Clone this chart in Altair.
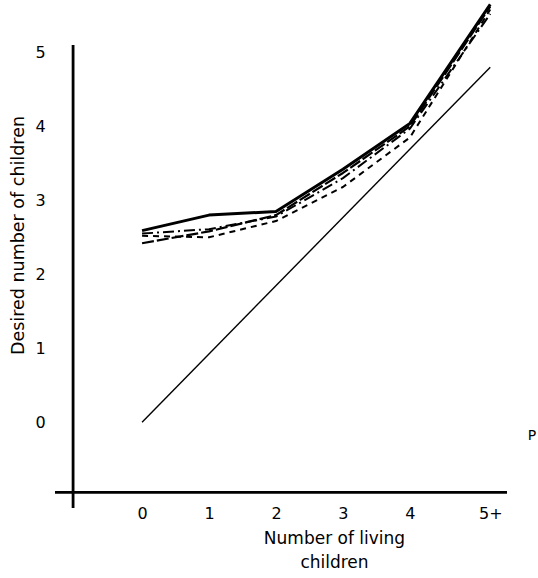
import altair as alt
import pandas as pd

# ---- data ----
x_pos = [0, 1, 2, 3, 4, 5.2]          # "5+" category sits at about 5.2
x_labels = ["0", "1", "2", "3", "4", "5+"]
y_ticks = [0, 1, 2, 3, 4, 5]

solid_heavy = [2.59, 2.80, 2.85, 3.42, 4.04, 5.65]
long_dash = [2.42, 2.58, 2.80, 3.37, 4.00, 5.62]
dash_dot = [2.55, 2.61, 2.78, 3.30, 3.97, 5.52]
short_dash = [2.52, 2.50, 2.72, 3.18, 3.85, 5.58]

diag_x = [0, 5.2]
diag_y = [0, 4.8]

# axis cross position (data units)
x_dom = [-1.3, 5.45]
y_dom = [-1.16, 5.1]
yaxis_at = -1.03
xaxis_at = -0.95

FONT = "DejaVu Sans"


def series_df(vals):
    return pd.DataFrame({"x": x_pos, "y": vals})


xs = alt.Scale(domain=x_dom, nice=False, zero=False)
ys = alt.Scale(domain=y_dom, nice=False, zero=False)

x_axis = alt.Axis(
    values=x_pos,
    labelExpr="datum.value > 4.5 ? '5+' : datum.label",
    domain=False, ticks=False, tickSize=0, grid=False,
    labelFont=FONT, labelFontSize=16, labelColor="black",
    labelBaseline="middle", labelPadding=5, labelAlign="center",
    title=["Number of living", "children"],
    titleFont=FONT, titleFontSize=17, titleFontWeight="normal", titleColor="black",
    titleX=279, titleY=22, titleBaseline="top", titleAlign="center",
    titleLineHeight=24, labelFlush=False, labelOverlap=False,
)
y_axis = alt.Axis(
    values=y_ticks,
    domain=False, ticks=False, tickSize=0, grid=False,
    labelFont=FONT, labelFontSize=16, labelColor="black",
    labelAlign="center", labelPadding=15, labelBaseline="middle",
    title="Desired number of children",
    titleFont=FONT, titleFontSize=17.5, titleFontWeight="normal", titleColor="black",
    titleX=-37, titleY=190, titleAngle=270, titleBaseline="middle", titleAlign="center",
    labelFlush=False, labelOverlap=False,
)


def line(vals, width, dash=None):
    props = dict(color="black", strokeWidth=width, strokeCap="butt", strokeJoin="round")
    if dash:
        props["strokeDash"] = dash
    return alt.Chart(series_df(vals)).mark_line(**props).encode(
        x=alt.X("x:Q", scale=xs, axis=x_axis),
        y=alt.Y("y:Q", scale=ys, axis=y_axis),
    )


diag = alt.Chart(pd.DataFrame({"x": diag_x, "y": diag_y})).mark_line(
    color="black", strokeWidth=1.4
).encode(x=alt.X("x:Q", scale=xs, axis=x_axis), y=alt.Y("y:Q", scale=ys, axis=y_axis))

yaxis_line = alt.Chart(pd.DataFrame({"x": [yaxis_at], "y": [y_dom[0]], "y2": [y_dom[1]]})).mark_rule(
    color="black", strokeWidth=2.8
).encode(x=alt.X("x:Q", scale=xs, axis=x_axis), y=alt.Y("y:Q", scale=ys, axis=y_axis), y2="y2:Q")

xaxis_line = alt.Chart(pd.DataFrame({"y": [xaxis_at], "x": [x_dom[0]], "x2": [x_dom[1]]})).mark_rule(
    color="black", strokeWidth=2.8
).encode(y=alt.Y("y:Q", scale=ys, axis=y_axis), x=alt.X("x:Q", scale=xs, axis=x_axis), x2="x2:Q")

stray = alt.Chart(pd.DataFrame({"x": [5.76], "y": [-0.18], "t": ["P"]})).mark_text(
    font=FONT, fontSize=14, color="black", align="left", baseline="middle"
).encode(x=alt.X("x:Q", scale=xs, axis=x_axis), y=alt.Y("y:Q", scale=ys, axis=y_axis), text="t:N")

chart = alt.layer(
    yaxis_line,
    xaxis_line,
    diag,
    line(short_dash, 2.0, [6, 5]),
    line(dash_dot, 2.0, [11, 4, 2, 4]),
    line(long_dash, 2.2, [12, 3]),
    line(solid_heavy, 3.0),
    stray,
).properties(
    width=452,
    height=463,
    autosize=alt.AutoSizeParams(type="none"),
    padding={"left": 55, "top": 45, "right": 31, "bottom": 70},
    background="white",
).configure_view(stroke=None)

chart.save("out.html", embed_options={"renderer": "svg", "actions": False})
